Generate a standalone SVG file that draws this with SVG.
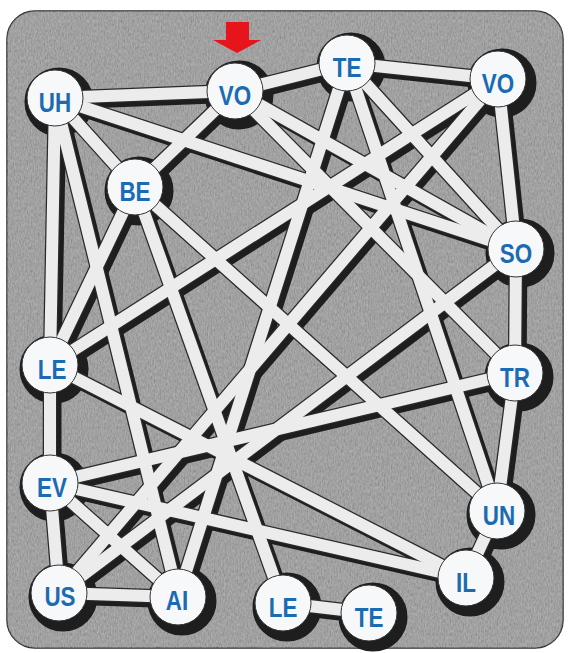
<svg xmlns="http://www.w3.org/2000/svg" xmlns:xlink="http://www.w3.org/1999/xlink" width="570" height="653" viewBox="0 0 570 653">
<style>
.bg{fill:#8f8f8f;stroke:#2b2b2b;stroke-width:1.5}
.edge-fill{stroke:#ececec;stroke-width:12;stroke-linecap:round}
.edge-outline{stroke:#2a2a2a;stroke-width:14.5;stroke-linecap:round}
.shadow{stroke:#1e1e1e;stroke-width:13;stroke-linecap:round;fill:#1e1e1e}
.node circle{fill:#f7f8fa;stroke:#333;stroke-width:1}
.node text{font-family:"Liberation Sans",Arial,sans-serif;font-weight:bold;font-size:28px;fill:#1b6bb3;text-anchor:middle}
</style>
<defs>
<filter id="grain" x="0" y="0" width="100%" height="100%">
<feTurbulence type="fractalNoise" baseFrequency="0.7 0.3" numOctaves="3" seed="7"/>
<feColorMatrix type="saturate" values="0"/>
<feComponentTransfer><feFuncA type="linear" slope="0" intercept="0.4"/></feComponentTransfer>
<feComposite operator="in" in2="SourceGraphic"/>
</filter>
</defs>
<rect width="570" height="653" fill="#ffffff"/>
<rect class="bg" x="7" y="11" width="556" height="637" rx="28"/>
<rect x="7" y="11" width="556" height="637" rx="28" fill="#000" filter="url(#grain)"/>

<g id="shadows" class="shadow" transform="translate(5,5)">
<use xlink:href="#connectors"/>
<g transform="translate(-1,-1)">
<circle cx="55" cy="98" r="28"/><circle cx="235" cy="91" r="28"/><circle cx="347" cy="63" r="28"/><circle cx="498" cy="79" r="28"/>
<circle cx="135" cy="187" r="28"/><circle cx="516" cy="249" r="28"/><circle cx="50" cy="365" r="28"/><circle cx="515" cy="373" r="28"/>
<circle cx="50" cy="483" r="28"/><circle cx="497" cy="511" r="28"/><circle cx="466" cy="578" r="28"/><circle cx="59" cy="593" r="28"/>
<circle cx="178" cy="597" r="28"/><circle cx="283" cy="603" r="28"/><circle cx="369" cy="613" r="28"/>
</g>
</g>
<use class="edge-outline" xlink:href="#connectors"/>
<g class="edge-fill">
<g id="connectors">
<line x1="55" y1="98" x2="235" y2="91"/>
<line x1="55" y1="98" x2="135" y2="187"/>
<line x1="55" y1="98" x2="516" y2="249"/>
<line x1="55" y1="98" x2="50" y2="365"/>
<line x1="55" y1="98" x2="178" y2="597"/>
<line x1="235" y1="91" x2="347" y2="63"/>
<line x1="235" y1="91" x2="135" y2="187"/>
<line x1="235" y1="91" x2="515" y2="373"/>
<line x1="235" y1="91" x2="516" y2="249"/>
<line x1="347" y1="63" x2="498" y2="79"/>
<line x1="347" y1="63" x2="178" y2="597"/>
<line x1="347" y1="63" x2="516" y2="249"/>
<line x1="347" y1="63" x2="497" y2="511"/>
<line x1="498" y1="79" x2="516" y2="249"/>
<line x1="498" y1="79" x2="50" y2="365"/>
<line x1="498" y1="79" x2="59" y2="593"/>
<line x1="135" y1="187" x2="50" y2="365"/>
<line x1="135" y1="187" x2="283" y2="603"/>
<line x1="135" y1="187" x2="497" y2="511"/>
<line x1="516" y1="249" x2="515" y2="373"/>
<line x1="516" y1="249" x2="59" y2="593"/>
<line x1="50" y1="365" x2="50" y2="483"/>
<line x1="50" y1="365" x2="466" y2="578"/>
<line x1="515" y1="373" x2="497" y2="511"/>
<line x1="515" y1="373" x2="50" y2="483"/>
<line x1="50" y1="483" x2="59" y2="593"/>
<line x1="50" y1="483" x2="178" y2="597"/>
<line x1="50" y1="483" x2="466" y2="578"/>
<line x1="497" y1="511" x2="466" y2="578"/>
<line x1="59" y1="593" x2="178" y2="597"/>
<line x1="283" y1="603" x2="369" y2="613"/>
</g>
</g>

<g id="start-arrow">
<rect x="226" y="22" width="23" height="19" fill="#e8141b"/>
<polygon points="213,40 261,40 237,53" fill="#e8141b"/>
</g>

<g id="node-uh" class="node"><circle cx="55" cy="98" r="28"/><text transform="translate(55,112) scale(0.8,1)">UH</text></g>
<g id="node-vo1" class="node"><circle cx="235" cy="91" r="28"/><text transform="translate(235,105) scale(0.8,1)">VO</text></g>
<g id="node-te1" class="node"><circle cx="347" cy="63" r="28"/><text transform="translate(347,77) scale(0.8,1)">TE</text></g>
<g id="node-vo2" class="node"><circle cx="498" cy="79" r="28"/><text transform="translate(498,93) scale(0.8,1)">VO</text></g>
<g id="node-be" class="node"><circle cx="135" cy="187" r="28"/><text transform="translate(135,201) scale(0.8,1)">BE</text></g>
<g id="node-so" class="node"><circle cx="516" cy="249" r="28"/><text transform="translate(516,263) scale(0.8,1)">SO</text></g>
<g id="node-le1" class="node"><circle cx="50" cy="365" r="28"/><text transform="translate(52,379) scale(0.8,1)">LE</text></g>
<g id="node-tr" class="node"><circle cx="515" cy="373" r="28"/><text transform="translate(515,387) scale(0.8,1)">TR</text></g>
<g id="node-ev" class="node"><circle cx="50" cy="483" r="28"/><text transform="translate(52,497) scale(0.8,1)">EV</text></g>
<g id="node-un" class="node"><circle cx="497" cy="511" r="28"/><text transform="translate(499,525) scale(0.8,1)">UN</text></g>
<g id="node-il" class="node"><circle cx="466" cy="578" r="28"/><text transform="translate(466,592) scale(0.8,1)">IL</text></g>
<g id="node-us" class="node"><circle cx="59" cy="593" r="28"/><text transform="translate(60,606) scale(0.8,1)">US</text></g>
<g id="node-ai" class="node"><circle cx="178" cy="597" r="28"/><text transform="translate(177,610) scale(0.8,1)">AI</text></g>
<g id="node-le2" class="node"><circle cx="283" cy="603" r="28"/><text transform="translate(283,617) scale(0.8,1)">LE</text></g>
<g id="node-te2" class="node"><circle cx="369" cy="613" r="28"/><text transform="translate(369,627) scale(0.8,1)">TE</text></g>
</svg>
